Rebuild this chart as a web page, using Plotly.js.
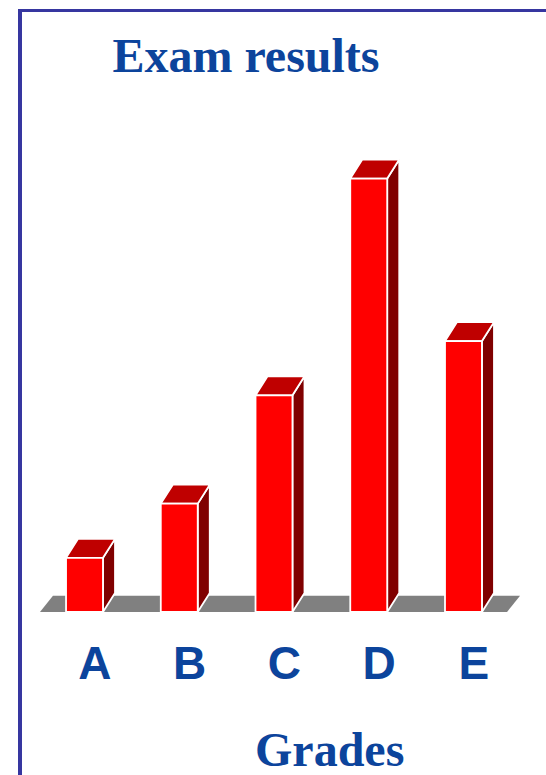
<!DOCTYPE html>
<html><head><meta charset="utf-8">
<script src="https://cdn.plot.ly/plotly-3.0.1.min.js"></script>
<style>
html,body{margin:0;padding:0;background:#fff;overflow:hidden}
#chart{position:absolute;left:0;top:0;width:546px;height:775px}
#frame{position:absolute;left:18px;top:9px;width:540px;height:780px;border-left:4px solid #3636a0;border-top:3px solid #3636a0;pointer-events:none}
</style></head><body>
<div id="chart"></div><div id="frame"></div>
<script>
// ---- data ----
const grades = ['A', 'B', 'C', 'D', 'E'];
const counts = [1, 2, 4, 8, 5];
const chartTitle = 'Exam results';
const axisTitle = 'Grades';

// ---- styles ----
const textBlue = '#0c449c';
const frontColor = '#ff0000';
const topColor = '#bf0000';
const sideColor = '#800000';
const floorColor = '#808080';
const hw = 0.195;   // half bar width (category units)
const dx = 0.127;   // depth offset x
const dy = 0.35;    // depth offset y
const fdx = 0.137, fdy = 0.3; // floor depth

function poly(xs, ys, color, line) {
  return {
    type: 'scatter', mode: 'lines', fill: 'toself', fillcolor: color,
    x: xs.concat([xs[0]]), y: ys.concat([ys[0]]),
    line: line ? {color: '#ffffff', width: 1.8} : {width: 0, color: color},
    hoverinfo: 'skip', showlegend: false
  };
}

const traces = [];
const fl = -0.47, fr = grades.length - 1 + 0.46;
traces.push(poly([fl, fr, fr + fdx, fl + fdx], [0, 0, fdy, fdy], floorColor, false));

counts.forEach((v, i) => {
  traces.push(poly([i + hw, i + hw + dx, i + hw + dx, i + hw], [0, dy, v + dy, v], sideColor, true));
  traces.push(poly([i - hw, i + hw, i + hw + dx, i - hw + dx], [v, v, v + dy, v + dy], topColor, true));
  traces.push(poly([i - hw, i + hw, i + hw, i - hw], [0, 0, v, v], frontColor, true));
});

const layout = {
  width: 546, height: 775,
  margin: {l: 0, r: 0, t: 100, b: 163, pad: 0},
  paper_bgcolor: '#ffffff', plot_bgcolor: '#ffffff',
  title: {
    text: chartTitle,
    font: {family: 'Liberation Serif, Times New Roman, serif', size: 48, weight: 'bold', color: textBlue},
    x: 0.4505, xanchor: 'center', xref: 'container',
    y: 0.929, yanchor: 'middle', yref: 'container'
  },
  xaxis: {
    range: [-0.892, 4.871], fixedrange: true,
    tickvals: grades.map((g, i) => i + 0.11), ticktext: grades,
    tickfont: {family: 'Liberation Sans, Arial, sans-serif', size: 46, weight: 'bold', color: textBlue},
    showgrid: false, zeroline: false, showline: false, ticks: '', ticklabelstandoff: 20
  },
  yaxis: {range: [0, 9.45], visible: false, fixedrange: true},
  annotations: [{
    text: axisTitle, xref: 'paper', yref: 'paper', x: 0.6026, y: -0.2695,
    xanchor: 'center', yanchor: 'middle', showarrow: false,
    font: {family: 'Liberation Serif, Times New Roman, serif', size: 48, weight: 'bold', color: textBlue}
  }]
};

Plotly.newPlot('chart', traces, layout, {displayModeBar: false, staticPlot: true});
</script>
</body></html>
